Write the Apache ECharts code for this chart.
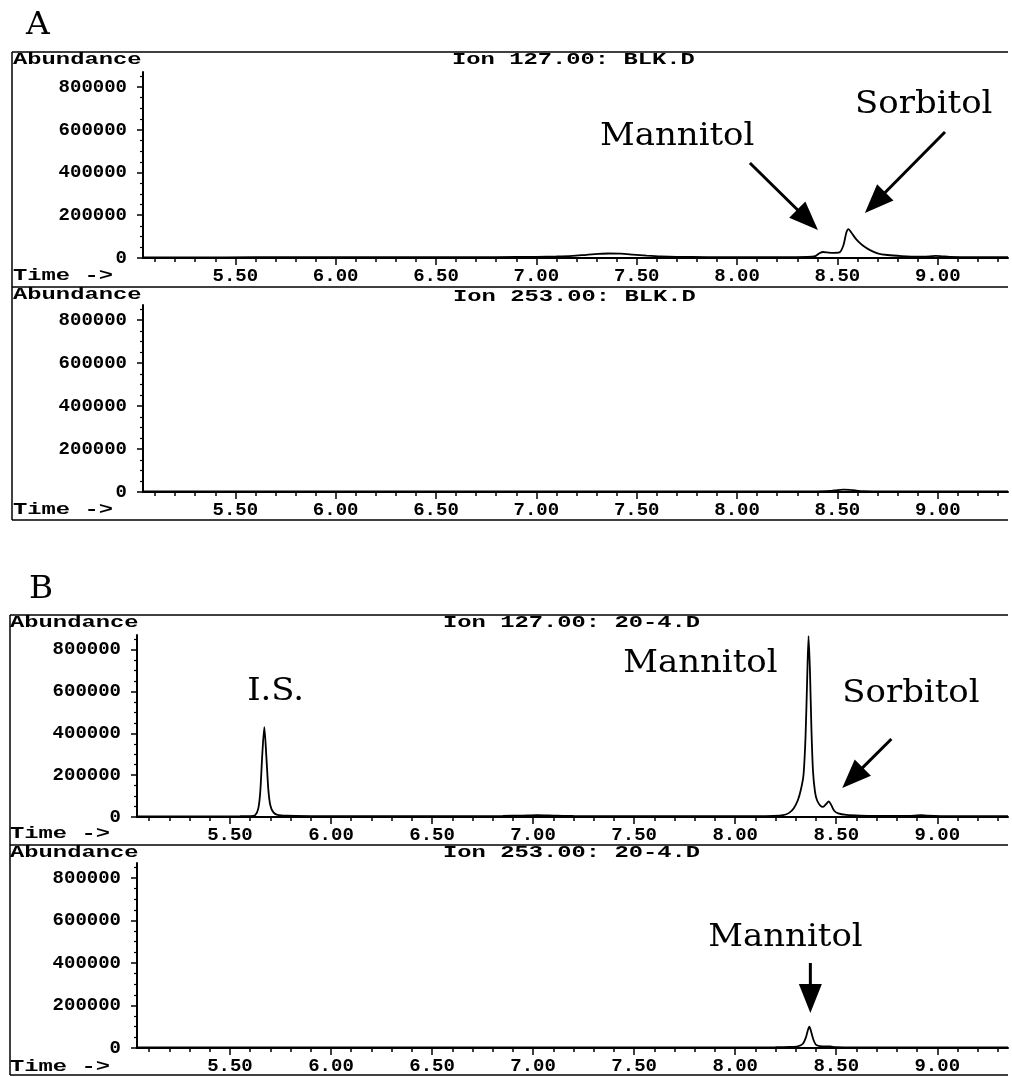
<!DOCTYPE html>
<html><head><meta charset="utf-8">
<script src="https://cdn.jsdelivr.net/npm/echarts@6/dist/echarts.min.js"></script>
<style>html,body{margin:0;padding:0;background:#fff}#c{width:1012px;height:1077px}</style>
</head><body><div id="c"></div>
<script>
// ---------- data ----------
const xTickLabels = [5.5, 6.0, 6.5, 7.0, 7.5, 8.0, 8.5, 9.0];
const xMinorTicks = [5.1,5.2,5.3,5.4,5.6,5.7,5.8,5.9,6.1,6.2,6.3,6.4,6.6,6.7,6.8,6.9,7.1,7.2,7.3,7.4,7.6,7.7,7.8,7.9,8.1,8.2,8.3,8.4,8.6,8.7,8.8,8.9,9.1,9.2,9.3];
const yTickLabels = [0, 200000, 400000, 600000, 800000];
const yMinorTicks = [50000,100000,150000,250000,300000,350000,450000,500000,550000,650000,700000,750000,850000];

// Panel A, Ion 127 (BLK.D)
const tA127 = [5.04,5.30,5.60,6.00,6.40,6.80,7.00,7.10,7.18,7.25,7.31,7.36,7.42,7.48,7.55,7.62,7.70,7.85,8.00,8.20,8.35,8.39,8.41,8.43,8.45,8.48,8.51,8.53,8.545,8.555,8.57,8.59,8.61,8.63,8.66,8.70,8.75,8.82,8.90,8.96,8.99,9.02,9.06,9.15,9.35];
const yA127 = [3000,3000,3500,4000,4000,4500,5000,7000,10000,15000,19000,21000,20000,16000,11000,7000,5000,4500,4000,4000,5000,9000,22000,28000,26000,24000,26000,60000,120000,135000,118000,92000,72000,56000,38000,22000,14000,9000,6000,8000,10000,8000,5000,4000,3500];
// Panel A, Ion 253 (BLK.D)
const tA253 = [5.04,5.60,6.20,6.80,7.40,8.00,8.40,8.47,8.50,8.53,8.56,8.59,8.63,8.70,8.85,9.35];
const yA253 = [2500,2500,2500,2500,3000,2500,3000,5000,9000,11000,10000,7000,4000,3000,2500,2500];
// Panel B, Ion 127 (20-4.D)
const tB127 = [5.04,5.30,5.55,5.60,5.625,5.64,5.65,5.66,5.67,5.68,5.69,5.70,5.715,5.735,5.78,5.90,6.20,6.60,6.85,6.95,7.02,7.10,7.20,7.50,7.90,8.15,8.22,8.25,8.27,8.29,8.31,8.325,8.338,8.348,8.356,8.363,8.37,8.377,8.385,8.395,8.405,8.42,8.435,8.45,8.463,8.475,8.49,8.51,8.55,8.62,8.75,8.86,8.90,8.92,8.95,9.02,9.35];
const yB127 = [3000,3000,3500,4000,9000,40000,120000,300000,430000,290000,130000,55000,22000,10000,6000,4500,4000,4000,5000,7000,9000,7000,5000,4000,4000,4500,7000,12000,22000,42000,80000,130000,200000,380000,650000,865000,700000,430000,220000,120000,80000,56000,48000,62000,75000,58000,30000,17000,10000,7000,5000,5000,8000,8500,6000,4000,3500];
// Panel B, Ion 253 (20-4.D)
const tB253 = [5.04,5.60,6.20,6.80,7.40,8.00,8.20,8.27,8.31,8.335,8.35,8.36,8.367,8.375,8.385,8.40,8.43,8.47,8.50,8.60,9.35];
const yB253 = [3000,3000,3000,3000,3000,3000,3500,5000,8000,20000,50000,85000,100000,80000,45000,15000,8000,7000,4000,3000,3000];

// annotations in data coordinates: [panel, text, t, value]
const labelTexts = [
  [0, 'Mannitol', 7.317, 566000],
  [0, 'Sorbitol', 8.588, 715600],
  [2, 'I.S.', 5.585, 597500],
  [2, 'Mannitol', 7.446, 731400],
  [2, 'Sorbitol', 8.530, 588000],
  [3, 'Mannitol', 7.867, 517300]
];
// arrows: [panel, tStart, vStart, tTip, vTip]
const arrows = [
  [0, 8.064, 444400, 8.403, 131000],
  [0, 9.036, 589400, 8.637, 210500],
  [2, 8.773, 372900, 8.530, 138600],
  [3, 8.372, 399700, 8.372, 164600]
];
const ionTitles = ['Ion 127.00: BLK.D', 'Ion 253.00: BLK.D', 'Ion 127.00: 20-4.D', 'Ion 253.00: 20-4.D'];

// ---------- layout ----------
const grids = [
  {left: 143, top: 72, width: 865, height: 186},
  {left: 143, top: 305, width: 865, height: 187},
  {left: 137, top: 635, width: 871, height: 182},
  {left: 137, top: 863, width: 871, height: 185}
];
const headerPos = [
  {ab: [13, 60], ion: [452, 60], time: [13, 276]},
  {ab: [13, 295], ion: [453, 297], time: [13, 510]},
  {ab: [10, 623], ion: [443, 623], time: [10, 834]},
  {ab: [10, 853], ion: [443, 853], time: [10, 1067]}
];
const traces = [[tA127, yA127], [tA253, yA253], [tB127, yB127], [tB253, yB253]];

const X_MIN = 5.04, X_MAX = 9.35, Y_MIN = 0, Y_MAX = 870000;
const monoFont = 'Liberation Mono';

const xAxes = [], yAxes = [], series = [];
grids.forEach((g, i) => {
  xAxes.push({
    type: 'value', gridIndex: i, min: X_MIN, max: X_MAX, position: 'bottom',
    axisLine: {show: true, onZero: false, lineStyle: {color: '#000', width: 2}},
    axisTick: {show: true, customValues: xTickLabels, length: 7, lineStyle: {color: '#000', width: 1.5}},
    axisLabel: {show: true, customValues: xTickLabels, formatter: v => v.toFixed(2), margin: 9,
      color: '#000', fontFamily: monoFont, fontWeight: 'bold', fontSize: 19},
    splitLine: {show: false}
  });
  xAxes.push({
    type: 'value', gridIndex: i, min: X_MIN, max: X_MAX, position: 'bottom',
    axisLine: {show: false, onZero: false},
    axisTick: {show: true, customValues: xMinorTicks, length: 4, lineStyle: {color: '#000', width: 1.5}},
    axisLabel: {show: false}, splitLine: {show: false}
  });
  yAxes.push({
    type: 'value', gridIndex: i, min: Y_MIN, max: Y_MAX, position: 'left',
    axisLine: {show: true, onZero: false, lineStyle: {color: '#000', width: 2}},
    axisTick: {show: true, customValues: yTickLabels, length: 6, lineStyle: {color: '#000', width: 1.5}},
    axisLabel: {show: true, customValues: yTickLabels, formatter: v => String(v), margin: 16,
      color: '#000', fontFamily: monoFont, fontWeight: 'bold', fontSize: 19},
    splitLine: {show: false}
  });
  yAxes.push({
    type: 'value', gridIndex: i, min: Y_MIN, max: Y_MAX, position: 'left',
    axisLine: {show: false, onZero: false},
    axisTick: {show: true, customValues: yMinorTicks, length: 3, lineStyle: {color: '#000', width: 1.2}},
    axisLabel: {show: false}, splitLine: {show: false}
  });
  const [ts, vs] = traces[i];
  series.push({
    type: 'line', xAxisIndex: 2 * i, yAxisIndex: 2 * i,
    data: ts.map((t, k) => [t, vs[k]]),
    showSymbol: false, symbol: 'none', smooth: 0.25, silent: true,
    lineStyle: {color: '#000', width: 1.8}, z: 3
  });
});

const chart = echarts.init(document.getElementById('c'), null, {renderer: 'canvas'});
chart.setOption({
  backgroundColor: '#fff',
  animation: false,
  grid: grids.map(g => Object.assign({outerBoundsMode: 'none', containLabel: false}, g)),
  xAxis: xAxes, yAxis: yAxes, series: series
});

// ---------- decorations ----------
const gfx = [];
function line(x1, y1, x2, y2, w) {
  gfx.push({type: 'line', shape: {x1, y1, x2, y2}, style: {stroke: '#000', lineWidth: w || 1.5}, silent: true});
}
function monoText(txt, x, y) {
  gfx.push({type: 'text', x: x, y: y, scaleX: 1.4, silent: true,
    style: {text: txt, fill: '#000', font: 'bold 17px "' + monoFont + '"',
      align: 'left', verticalAlign: 'middle', textAlign: 'left', textVerticalAlign: 'middle'}});
}
function serifText(txt, x, y, size) {
  gfx.push({type: 'text', x: x, y: y, scaleX: 1.06, silent: true,
    style: {text: txt, fill: '#000', font: (size || 32) + 'px "DejaVu Serif"',
      align: 'left', verticalAlign: 'middle', textAlign: 'left', textVerticalAlign: 'middle'}});
}
// frames
line(12, 52, 1008, 52); line(12, 52, 12, 520); line(12, 287, 1008, 287); line(12, 520, 1008, 520);
line(10, 615, 1008, 615); line(10, 615, 10, 1075); line(10, 845, 1008, 845); line(10, 1075, 1008, 1075);
// panel letters
serifText('A', 26, 26, 31);
serifText('B', 29, 590, 31);
// headers
headerPos.forEach((h, i) => {
  monoText('Abundance', h.ab[0], h.ab[1]);
  monoText(ionTitles[i], h.ion[0], h.ion[1]);
  monoText('Time ->', h.time[0], h.time[1]);
});
function px(panel, t, v) {
  return chart.convertToPixel({xAxisIndex: 2 * panel, yAxisIndex: 2 * panel}, [t, v]);
}
labelTexts.forEach(([p, txt, t, v]) => {
  const [x, y] = px(p, t, v);
  serifText(txt, x, y, 32);
});
arrows.forEach(([p, t0, v0, t1, v1]) => {
  const [x0, y0] = px(p, t0, v0);
  const [x1, y1] = px(p, t1, v1);
  const dx = x1 - x0, dy = y1 - y0, L = Math.sqrt(dx * dx + dy * dy);
  const ux = dx / L, uy = dy / L, nx = -uy, ny = ux;
  const headLen = 29, headHalf = 11.5;
  const bx = x1 - ux * headLen, by = y1 - uy * headLen;
  line(x0, y0, bx + ux * 2, by + uy * 2, 3);
  gfx.push({type: 'polygon', silent: true,
    shape: {points: [[x1, y1], [bx + nx * headHalf, by + ny * headHalf], [bx - nx * headHalf, by - ny * headHalf]]},
    style: {fill: '#000'}});
});
chart.setOption({graphic: {elements: gfx}});
</script></body></html>
